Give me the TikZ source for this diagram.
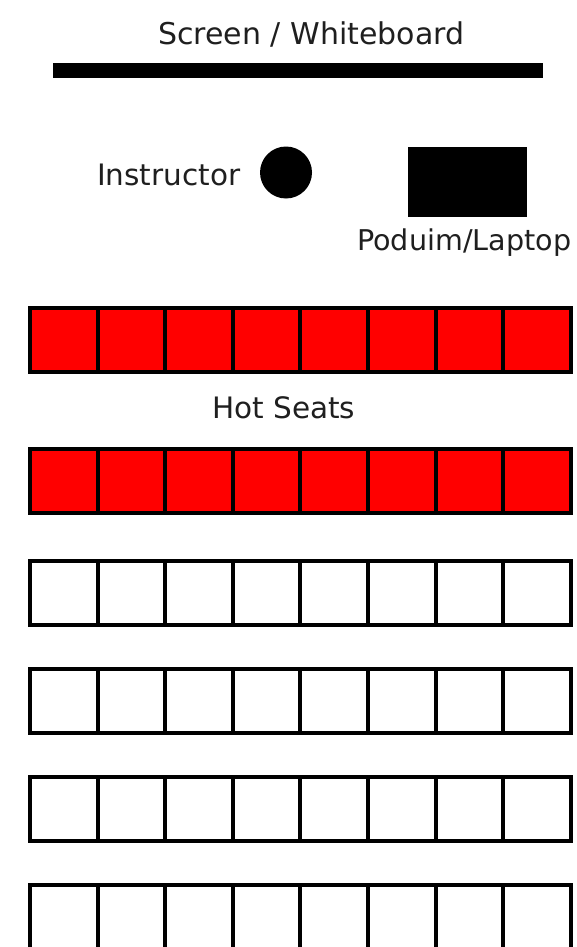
\documentclass[tikz,border=0pt]{standalone}
\usepackage{fontspec}
\setmainfont{DejaVu Sans}
\begin{document}
\begin{tikzpicture}[x=1pt,y=-1pt,
  lbl/.style={anchor=base west,inner sep=0pt,font=\fontsize{29.5}{34}\selectfont,text=black!88},
  seat/.style={draw=black,line width=4pt,minimum width=67.7pt,minimum height=64pt,inner sep=0pt,outer sep=0pt},
  hot/.style={seat,fill=red},
  cold/.style={seat,fill=white}]
\useasboundingbox (0,0) rectangle (577,947);
\fill[white] (0,0) rectangle (577,947);
% screen
\node[lbl,font=\fontsize{30}{34}\selectfont] (screentxt) at (158,45) {Screen / Whiteboard};
\node[fill=black,inner sep=0pt,minimum width=490pt,minimum height=15pt] (board) at (298,70.5) {};
% instructor
\node[lbl] (instxt) at (97,185) {Instructor};
\node[circle,fill=black,minimum size=52pt,inner sep=0pt] (inst) at (286,172.5) {};
% podium
\node[fill=black,minimum width=119pt,minimum height=70pt,inner sep=0pt] (podium) at (467.5,182) {};
\node[lbl,font=\fontsize{28.6}{34}\selectfont] (podtxt) at (357,250) {Poduim/Laptop};
% hot seats label
\node[lbl] (hottxt) at (212,418) {Hot Seats};
% seats
\foreach \r/\y/\st in {1/340/hot,2/480.5/hot,3/592.5/cold,4/701/cold,5/808.5/cold,6/917/cold}{
  \foreach \c in {1,...,8}{
    \node[\st] (s-\r-\c) at ({30+67.6*(\c-0.5)},\y) {};
  }
}
\end{tikzpicture}
\end{document}
